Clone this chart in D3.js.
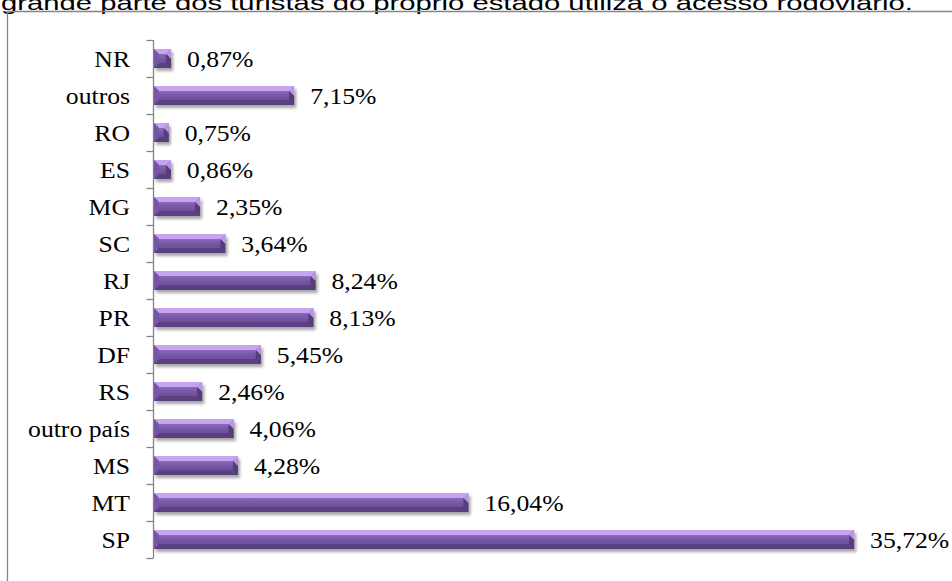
<!DOCTYPE html>
<html>
<head>
<meta charset="utf-8">
<script src="https://cdn.jsdelivr.net/npm/d3@7"></script>
<style>
  html, body { margin: 0; padding: 0; background: #fff; }
  svg { display: block; }
</style>
</head>
<body>
<svg id="chart" width="952" height="581"></svg>
<script>
// Origem dos turistas (%)
const categories = ["NR", "outros", "RO", "ES", "MG", "SC", "RJ", "PR", "DF", "RS", "outro país", "MS", "MT", "SP"];
const values = [0.87, 7.15, 0.75, 0.86, 2.35, 3.64, 8.24, 8.13, 5.45, 2.46, 4.06, 4.28, 16.04, 35.72];
const valueLabels = ["0,87%", "7,15%", "0,75%", "0,86%", "2,35%", "3,64%", "8,24%", "8,13%", "5,45%", "2,46%", "4,06%", "4,28%", "16,04%", "35,72%"];
const captionText = "grande parte dos turistas do próprio estado utiliza o acesso rodoviário.";

const svg = d3.select("#chart");
const serif = "'Liberation Serif', 'Times New Roman', serif";
const stretch = 1.07;
const labelSize = 24;

// defs: drop shadow and face gradient for the bevelled bars
const defs = svg.append("defs");
const shadow = defs.append("filter").attr("id", "barShadow")
  .attr("x", "-10%").attr("y", "-30%").attr("width", "130%").attr("height", "180%");
shadow.append("feDropShadow").attr("dx", 2).attr("dy", 3).attr("stdDeviation", 1.8)
  .attr("flood-color", "#000").attr("flood-opacity", 0.35);

const face = defs.append("linearGradient").attr("id", "faceGrad")
  .attr("x1", 0).attr("y1", 0).attr("x2", 0).attr("y2", 1);
[["0%", "#a784d6"], ["35%", "#8463b3"], ["60%", "#7253a0"], ["100%", "#664a90"]]
  .forEach(([o, c]) => face.append("stop").attr("offset", o).attr("stop-color", c));

// caption line above the frame (its upper part runs off the top edge)
svg.append("text")
  .attr("x", 1).attr("y", 10)
  .attr("font-family", "Arial, 'Liberation Sans', sans-serif")
  .attr("font-size", 21)
  .attr("textLength", 912).attr("lengthAdjust", "spacingAndGlyphs")
  .attr("fill", "#000")
  .text(captionText);

// chart frame
svg.append("path")
  .attr("d", "M7.5,581 V11.5 H952")
  .attr("fill", "none").attr("stroke", "#858585").attr("stroke-width", 1.3);

// scales
const x = d3.scaleLinear().domain([0, 40]).range([154, 938]);
const y = d3.scaleBand().domain(categories).range([40, 558]).paddingInner(0.49).paddingOuter(0.245);

// category axis
const axis = d3.axisLeft(y).tickSize(0).tickFormat("");
const axisG = svg.append("g").attr("transform", "translate(153.5,0)");
axisG.call(axis);
axisG.select(".domain").attr("d", "M0,40V558").attr("stroke", "#858585").attr("stroke-width", 1.3);
// tick marks sit on the band boundaries
const step = y.step();
const bounds = d3.range(categories.length + 1).map(i => 40 + i * step);
axisG.selectAll("line.bound").data(bounds).join("line")
  .attr("class", "bound")
  .attr("x1", -7).attr("x2", 0)
  .attr("y1", d => Math.round(d) + 0.5).attr("y2", d => Math.round(d) + 0.5)
  .attr("stroke", "#858585").attr("stroke-width", 1.3);

// category labels
svg.append("g").selectAll("text").data(categories).join("text")
  .attr("transform", d => `translate(130,${y(d) + y.bandwidth() / 2 + 8.5}) scale(${stretch},1)`)
  .attr("text-anchor", "end")
  .attr("font-family", serif).attr("font-size", labelSize).attr("fill", "#000")
  .text(d => d);

// bevelled bars
const bh = y.bandwidth();
const bars = svg.append("g").selectAll("g.bar").data(categories).join("g")
  .attr("class", "bar")
  .attr("transform", d => `translate(${x(0)},${y(d)})`)
  .attr("filter", "url(#barShadow)");

bars.each(function (d, i) {
  const g = d3.select(this);
  const w = x(values[i]) - x(0);
  const b = Math.min(5, w / 2, bh / 3);
  // central face
  g.append("rect").attr("width", w).attr("height", bh).attr("fill", "url(#faceGrad)");
  // top facet (light)
  g.append("path").attr("d", `M0,0H${w}L${w - b},${b}H${b}Z`).attr("fill", "#c6a4f0");
  // bottom facet (dark)
  g.append("path").attr("d", `M0,${bh}H${w}L${w - b},${bh - b}H${b}Z`).attr("fill", "#5a4080");
  // left facet
  g.append("path").attr("d", `M0,0L${b},${b}V${bh - b}L0,${bh}Z`).attr("fill", "#7657a4");
  // right facet: light upper triangle, dark lower part
  g.append("path").attr("d", `M${w},0L${w - b},${b}L${w},${b * 2}Z`).attr("fill", "#b995e6");
  g.append("path").attr("d", `M${w},${b * 2}L${w - b},${b}V${bh - b}L${w},${bh}Z`).attr("fill", "#553c78");
});

// value labels
svg.append("g").selectAll("text").data(categories).join("text")
  .attr("transform", (d, i) => `translate(${x(values[i]) + 16},${y(d) + y.bandwidth() / 2 + 8.5}) scale(${stretch},1)`)
  .attr("font-family", serif).attr("font-size", labelSize).attr("fill", "#000")
  .text((d, i) => valueLabels[i]);
</script>
</body>
</html>
